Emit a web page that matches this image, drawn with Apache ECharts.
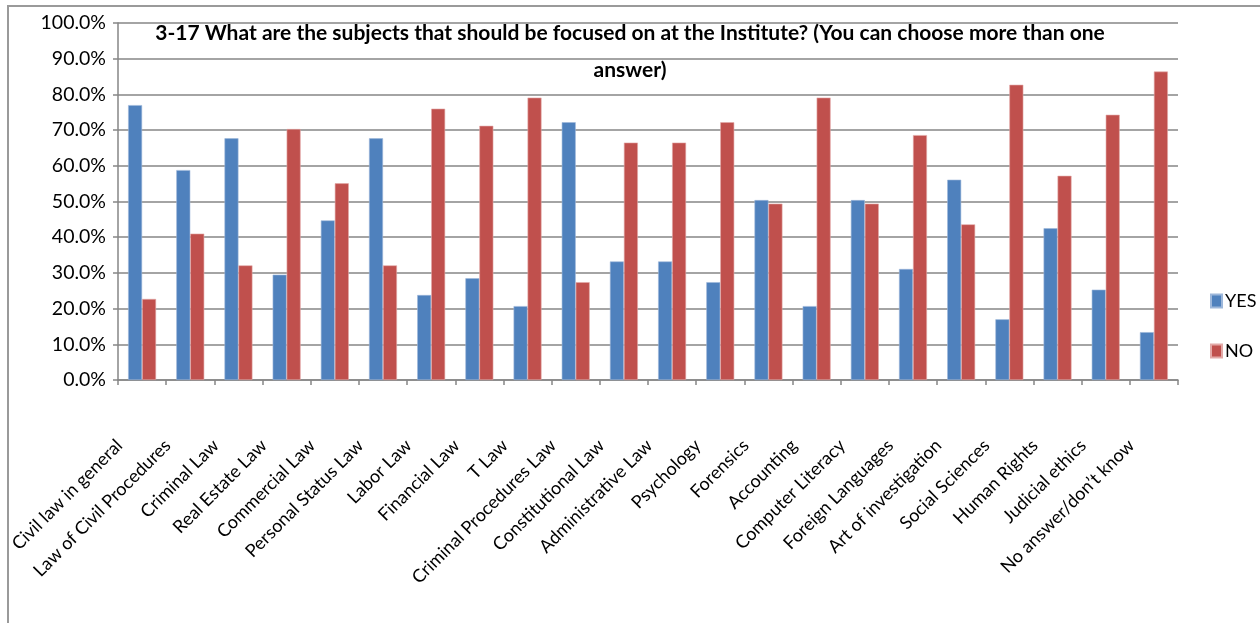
<!DOCTYPE html>
<html>
<head>
<meta charset="utf-8">
<script src="https://cdn.jsdelivr.net/npm/echarts@6/dist/echarts.min.js"></script>
<style>
html,body{margin:0;padding:0;background:#fff;}
#chart{width:1260px;height:623px;}
</style>
</head>
<body>
<div id="chart"></div>
<script>
const categories = [
  "Civil law in general", "Law of Civil Procedures", "Criminal Law", "Real Estate Law",
  "Commercial Law", "Personal Status Law", "Labor Law", "Financial Law", "T Law",
  "Criminal Procedures Law", "Constitutional Law", "Administrative Law", "Psychology",
  "Forensics", "Accounting", "Computer Literacy", "Foreign Languages", "Art of investigation",
  "Social Sciences", "Human Rights", "Judicial ethics", "No answer/don’t know"
];
const yesValues = [77.0, 58.8, 67.7, 29.5, 44.7, 67.7, 23.8, 28.5, 20.7, 72.2, 33.2, 33.2, 27.4, 50.4, 20.7, 50.4, 31.1, 56.1, 17.0, 42.5, 25.3, 13.4];
const noValues  = [22.7, 41.0, 32.1, 70.3, 55.1, 32.1, 76.0, 71.2, 79.1, 27.4, 66.5, 66.5, 72.2, 49.4, 79.1, 49.4, 68.6, 43.6, 82.7, 57.2, 74.3, 86.4];
const seriesNames = ["YES", "NO"];
const titleLines = ["3-17 What are the subjects that should be focused on at the Institute? (You can choose more than one", "answer)"];

const chart = echarts.init(document.getElementById('chart'), null, {renderer: 'canvas'});
const gray = '#868686';
const font = 'Lato, "Open Sans", sans-serif';
chart.setOption({
  animation: false,
  backgroundColor: '#fff',
  graphic: [{
    type: 'rect', silent: true, z: -10,
    shape: {x: 8, y: 6, width: 1400, height: 800},
    style: {fill: 'none', stroke: '#9a9a9a', lineWidth: 2}
  }],
  title: {
    text: titleLines.join('\n'),
    left: 'center',
    top: 10,
    textStyle: {fontFamily: font, fontWeight: 'bold', fontSize: 21, lineHeight: 37, color: '#000'}
  },
  legend: {
    orient: 'vertical',
    left: 1205, top: 287,
    itemWidth: 11, itemHeight: 13, itemGap: 32,
    icon: 'rect',
    textStyle: {fontFamily: font, fontSize: 18, color: '#000', padding: [0,0,0,-2]},
    data: seriesNames
  },
  grid: {left: 118, right: 82, top: 23, bottom: 243, containLabel: false},
  xAxis: {
    type: 'category',
    data: categories,
    axisLine: {lineStyle: {color: gray, width: 1.5}},
    axisTick: {show: true, length: 5, lineStyle: {color: gray, width: 1.5}},
    axisLabel: {rotate: 45, interval: 0, margin: 40, padding: [0, 32, 0, 0],
      fontFamily: font, fontSize: 18, color: '#000'}
  },
  yAxis: {
    type: 'value', min: 0, max: 100, interval: 10,
    axisLine: {show: true, lineStyle: {color: gray, width: 1.5}},
    axisTick: {show: true, length: 5, lineStyle: {color: gray, width: 1.5}},
    splitLine: {lineStyle: {color: gray, width: 1.5}},
    axisLabel: {margin: 12, fontFamily: font, fontSize: 19.5, color: '#000',
      formatter: v => v.toFixed(1) + '%'}
  },
  series: [
    {name: seriesNames[0], type: 'bar', data: yesValues, barGap: '0%', barCategoryGap: '42%',
     itemStyle: {color: '#4F81BD', borderColor: '#9DB7DA', borderWidth: 0.6}},
    {name: seriesNames[1], type: 'bar', data: noValues, barGap: '0%', barCategoryGap: '42%',
     itemStyle: {color: '#C0504D', borderColor: '#E3A9A7', borderWidth: 0.6}}
  ]
});
</script>
</body>
</html>
